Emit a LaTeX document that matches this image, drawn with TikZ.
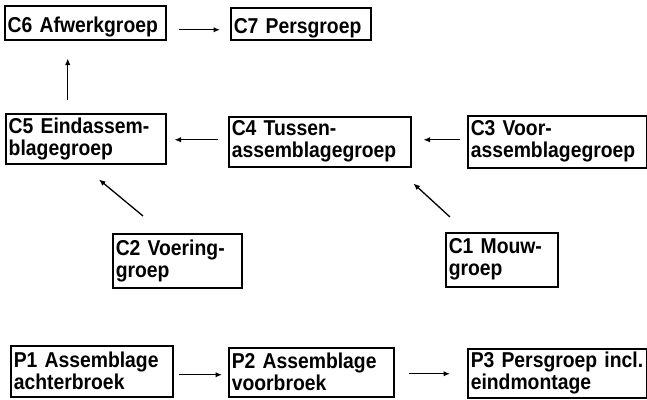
\documentclass[tikz,border=0pt]{standalone}
\usepackage{fontspec}
\setmainfont{Liberation Sans}[FakeStretch=0.9]
\usetikzlibrary{arrows.meta}
\begin{document}
\begin{tikzpicture}[x=1pt,y=-1pt,
  groupbox/.style={draw, line width=1.5pt, anchor=north west, align=left,
    inner xsep=3pt, inner ysep=0pt,
    font=\fontsize{21.5}{22}\selectfont\bfseries},
  oneline/.style={text depth=0pt, text height=19pt},
  flow/.style={line width=1.3pt, -{Latex[length=6.5pt,width=5.5pt]}}]
\useasboundingbox (0,0) rectangle (647,399);

% production groups, upper scheme
\node[groupbox, oneline, text width=155pt, minimum height=34pt] (c6) at (4,5) {C6 Afwerkgroep};
\node[groupbox, oneline, text width=134pt, minimum height=32pt] (c7) at (230,7) {C7 Persgroep};
\node[groupbox, text width=154pt, minimum height=50pt] (c5) at (5,113) {C5 Eindassem-\\blagegroep};
\node[groupbox, text width=176pt, minimum height=50pt] (c4) at (228,116) {C4 Tussen-\\assemblagegroep};
\node[groupbox, text width=173pt, minimum height=52pt] (c3) at (467,115) {C3 Voor-\\assemblagegroep};
\node[groupbox, text width=123pt, minimum height=54pt] (c2) at (112,233) {C2 Voering-\\groep};
\node[groupbox, text width=106pt, minimum height=54pt] (c1) at (445,232) {C1 Mouw-\\groep};

% production line, lower scheme
\node[groupbox, text width=156pt, minimum height=51pt] (p1) at (10,345) {P1 Assemblage\\achterbroek};
\node[groupbox, text width=159pt, minimum height=49pt] (p2) at (228,347) {P2 Assemblage\\voorbroek};
\node[groupbox, text width=173pt, minimum height=49pt] (p3) at (467,348) {P3 Persgroep incl.\\eindmontage};

% material flow
\draw[flow, shorten <=12pt, shorten >=10pt] ([yshift=-7pt]c6.east) -- ([yshift=-7pt]c6.east -| c7.west);
\draw[flow, shorten <=13pt, shorten >=18pt] ([xshift=-18pt]c5.north) -- ([xshift=-18pt]c5.north |- c6.south);
\draw[flow, shorten <=10pt, shorten >=8pt] ([yshift=2pt]c4.west) -- ([yshift=2pt]c4.west -| c5.east);
\draw[flow, shorten <=7pt, shorten >=12pt] ([yshift=2pt]c3.west) -- ([yshift=2pt]c3.west -| c4.east);
\draw[flow] ([shift={(31,-17)}]c2.north west) -- ([shift={(94,15)}]c5.south west);
\draw[flow] ([shift={(5,-15)}]c1.north west) -- ([shift={(2,16)}]c4.south east);
\draw[flow, shorten <=5pt, shorten >=6pt] ([yshift=-3.5pt]p1.east) -- ([yshift=-3.5pt]p1.east -| p2.west);
\draw[flow, shorten <=14pt, shorten >=17pt] ([yshift=-1.5pt]p2.east) -- ([yshift=-1.5pt]p2.east -| p3.west);
\end{tikzpicture}
\end{document}
